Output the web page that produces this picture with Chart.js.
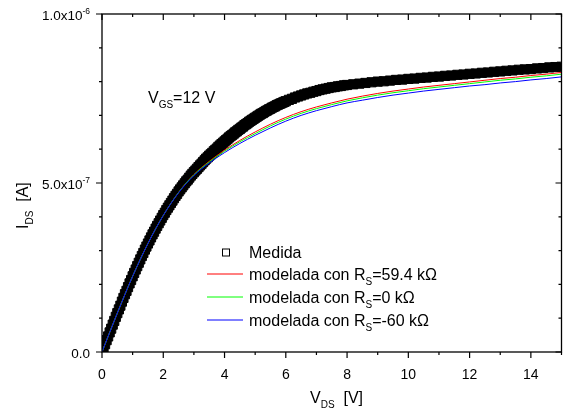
<!DOCTYPE html>
<html>
<head>
<meta charset="utf-8">
<script src="https://cdn.jsdelivr.net/npm/chart.js@4.4.0/dist/chart.umd.min.js"></script>
<style>
  html, body { margin: 0; padding: 0; background: #fff; }
</style>
</head>
<body>
<canvas id="c" width="569" height="411"></canvas>
<script>
// currents are in units of 1e-6 A
const vdsMedida = [0, 0.05, 0.1, 0.15, 0.2, 0.25, 0.3, 0.35, 0.4, 0.45, 0.5, 0.55, 0.6, 0.65, 0.7, 0.75, 0.8, 0.85, 0.9, 0.95,
  1.0, 1.05, 1.1, 1.15, 1.2, 1.25, 1.3, 1.35, 1.4, 1.45, 1.5, 1.55, 1.6, 1.65, 1.7, 1.75, 1.8, 1.85, 1.9, 1.95,
  2.0, 2.05, 2.1, 2.15, 2.2, 2.25, 2.3, 2.35, 2.4, 2.45, 2.5, 2.55, 2.6, 2.65, 2.7, 2.75, 2.8, 2.85, 2.9, 2.95,
  3.0, 3.05, 3.1, 3.15, 3.2, 3.25, 3.3, 3.35, 3.4, 3.45, 3.5, 3.55, 3.6, 3.65, 3.7, 3.75, 3.8, 3.85, 3.9, 3.95,
  4.0, 4.05, 4.1, 4.15, 4.2, 4.25, 4.3, 4.35, 4.4, 4.45, 4.5, 4.55, 4.6, 4.65, 4.7, 4.75, 4.8, 4.85, 4.9, 4.95,
  5.0, 5.05, 5.1, 5.15, 5.2, 5.25, 5.3, 5.35, 5.4, 5.45, 5.5, 5.55, 5.6, 5.65, 5.7, 5.75, 5.8, 5.85, 5.9, 5.95,
  6.0, 6.1, 6.2, 6.3, 6.4, 6.5, 6.6, 6.7, 6.8, 6.9, 7.0, 7.1, 7.2, 7.3, 7.4, 7.5, 7.6, 7.7, 7.8, 7.9,
  8.0, 8.2, 8.4, 8.6, 8.8, 9.0, 9.2, 9.4, 9.6, 9.8, 10.0, 10.2, 10.4, 10.6, 10.8, 11.0, 11.2, 11.4, 11.6, 11.8,
  12.0, 12.2, 12.4, 12.6, 12.8, 13.0, 13.2, 13.4, 13.6, 13.8, 14.0, 14.2, 14.4, 14.6, 14.8, 15.0];
const iMedida = [0, 0.012, 0.023, 0.035, 0.046, 0.058, 0.069, 0.081, 0.092, 0.104, 0.115, 0.126, 0.137, 0.149, 0.160, 0.171, 0.181, 0.192, 0.203, 0.213,
  0.224, 0.234, 0.244, 0.254, 0.264, 0.274, 0.284, 0.293, 0.303, 0.312, 0.321, 0.330, 0.339, 0.348, 0.356, 0.365, 0.373, 0.381, 0.389, 0.397,
  0.405, 0.412, 0.420, 0.427, 0.434, 0.441, 0.448, 0.455, 0.462, 0.468, 0.475, 0.481, 0.487, 0.493, 0.499, 0.505, 0.510, 0.516, 0.522, 0.527,
  0.532, 0.537, 0.542, 0.547, 0.552, 0.557, 0.562, 0.567, 0.572, 0.576, 0.581, 0.585, 0.589, 0.594, 0.598, 0.602, 0.607, 0.611, 0.615, 0.619,
  0.623, 0.627, 0.631, 0.635, 0.639, 0.642, 0.646, 0.650, 0.653, 0.657, 0.660, 0.664, 0.667, 0.671, 0.674, 0.677, 0.681, 0.684, 0.687, 0.690,
  0.693, 0.696, 0.699, 0.702, 0.705, 0.707, 0.710, 0.713, 0.715, 0.718, 0.720, 0.723, 0.725, 0.727, 0.730, 0.732, 0.734, 0.736, 0.738, 0.740,
  0.742, 0.746, 0.749, 0.753, 0.756, 0.759, 0.762, 0.765, 0.767, 0.770, 0.772, 0.775, 0.777, 0.779, 0.781, 0.783, 0.784, 0.786, 0.787, 0.789,
  0.790, 0.792, 0.794, 0.796, 0.798, 0.800, 0.801, 0.803, 0.805, 0.806, 0.808, 0.809, 0.811, 0.812, 0.814, 0.815, 0.817, 0.818, 0.820, 0.821,
  0.823, 0.824, 0.826, 0.827, 0.829, 0.830, 0.832, 0.833, 0.835, 0.836, 0.837, 0.839, 0.840, 0.842, 0.843, 0.844];

const vdsModel = [0, 0.5, 1, 1.5, 2, 2.5, 3, 3.5, 4, 4.5, 5, 5.5, 6, 6.5, 7, 7.5, 8, 8.5, 9, 9.5, 10, 10.5, 11, 11.5, 12, 12.5, 13, 13.5, 14, 14.5, 15];
const iRs594 = [0, 0.115, 0.224, 0.321, 0.404, 0.472, 0.525, 0.564, 0.597, 0.626, 0.651, 0.674, 0.694, 0.711, 0.725, 0.737, 0.748, 0.757, 0.765, 0.772, 0.778, 0.784, 0.789, 0.794, 0.799, 0.804, 0.809, 0.813, 0.818, 0.822, 0.827];
const iRs0 = [0, 0.115, 0.224, 0.321, 0.404, 0.472, 0.524, 0.562, 0.594, 0.622, 0.646, 0.669, 0.689, 0.706, 0.720, 0.732, 0.743, 0.752, 0.760, 0.767, 0.773, 0.779, 0.784, 0.789, 0.794, 0.799, 0.804, 0.808, 0.813, 0.817, 0.822];
const iRsNeg60 = [0, 0.115, 0.224, 0.321, 0.404, 0.471, 0.522, 0.559, 0.590, 0.617, 0.641, 0.663, 0.683, 0.700, 0.714, 0.726, 0.737, 0.745, 0.753, 0.760, 0.766, 0.772, 0.777, 0.782, 0.787, 0.791, 0.796, 0.800, 0.805, 0.809, 0.814];

const rsLabels = ['59.4', '0', '-60'];
const lineColors = ['#ff0000', '#00ff00', '#0000ff'];

const xMajor = [0, 2, 4, 6, 8, 10, 12, 14];
const xMinor = [1, 3, 5, 7, 9, 11, 13, 15];
const yMajor = [0, 0.5, 1.0];
const yMinor = [0.1, 0.2, 0.3, 0.4, 0.6, 0.7, 0.8, 0.9];
const yTickBase = ['0.0', '5.0x10', '1.0x10'];
const yTickExp = ['', '-7', '-6'];

const FONT = '"Liberation Sans", Arial, sans-serif';

function pts(xs, ys) {
  return xs.map((v, i) => ({ x: v, y: ys[i] }));
}

// draws text pieces with sub/superscripts
function rich(ctx, x, y, parts) {
  let cx = x;
  parts.forEach(p => {
    ctx.font = p.s + 'px ' + FONT;
    ctx.fillText(p.t, cx, y + (p.dy || 0));
    cx += ctx.measureText(p.t).width;
  });
  return cx;
}
function richWidth(ctx, parts) {
  let w = 0;
  parts.forEach(p => {
    ctx.font = p.s + 'px ' + FONT;
    w += ctx.measureText(p.t).width;
  });
  return w;
}

const frame = {
  id: 'frame',
  afterDraw(chart) {
    const { ctx, chartArea: a, scales: { x, y } } = chart;
    ctx.save();
    ctx.strokeStyle = '#000';
    ctx.fillStyle = '#000';
    ctx.lineWidth = 1.3;
    ctx.strokeRect(a.left, a.top, a.right - a.left, a.bottom - a.top);

    ctx.lineWidth = 1.2;
    ctx.beginPath();
    xMajor.concat(xMinor).forEach(v => {
      const px = x.getPixelForValue(v);
      const len = xMajor.includes(v) ? 6 : 3;
      ctx.moveTo(px, a.bottom); ctx.lineTo(px, a.bottom + len);
      ctx.moveTo(px, a.top); ctx.lineTo(px, a.top + len);
    });
    yMajor.concat(yMinor).forEach(v => {
      const py = y.getPixelForValue(v);
      const len = yMajor.includes(v) ? 6 : 3;
      ctx.moveTo(a.left, py); ctx.lineTo(a.left - len, py);
      ctx.moveTo(a.right, py); ctx.lineTo(a.right - len, py);
    });
    ctx.stroke();

    // tick labels
    ctx.textBaseline = 'top';
    ctx.textAlign = 'center';
    ctx.font = '14px ' + FONT;
    xMajor.forEach(v => ctx.fillText(String(v), x.getPixelForValue(v), 368));

    ctx.textAlign = 'left';
    ctx.textBaseline = 'alphabetic';
    yMajor.forEach((v, i) => {
      const parts = [{ t: yTickBase[i], s: 13.5 }];
      if (yTickExp[i]) parts.push({ t: yTickExp[i], s: 8.5, dy: -6 });
      const w = richWidth(ctx, parts);
      rich(ctx, 90 - w, y.getPixelForValue(v) + 6, parts);
    });

    // axis titles
    rich(ctx, 310, 403, [{ t: 'V', s: 16 }, { t: 'DS', s: 10, dy: 5 }, { t: '  [V]', s: 16 }]);
    ctx.save();
    ctx.translate(28, 229);
    ctx.rotate(-Math.PI / 2);
    rich(ctx, 0, 0, [{ t: 'I', s: 16 }, { t: 'DS', s: 10, dy: 5 }, { t: '  [A]', s: 16 }]);
    ctx.restore();

    // annotation
    rich(ctx, 148, 103, [{ t: 'V', s: 16 }, { t: 'GS', s: 10, dy: 5 }, { t: '=12 V', s: 16 }]);

    // legend
    const rows = [252.5, 274, 297, 320];
    ctx.lineWidth = 1;
    ctx.strokeRect(222.5, rows[0] - 3.5, 7, 7);
    rich(ctx, 249, rows[0] + 5.5, [{ t: 'Medida', s: 16 }]);
    rsLabels.forEach((r, i) => {
      const ly = rows[i + 1];
      ctx.strokeStyle = lineColors[i];
      ctx.beginPath();
      ctx.moveTo(207, ly); ctx.lineTo(243, ly);
      ctx.stroke();
      rich(ctx, 249, ly + 5.5, [{ t: 'modelada con R', s: 16 }, { t: 'S', s: 10, dy: 5 }, { t: '=' + r + ' k\u03A9', s: 16 }]);
    });
    ctx.restore();
  }
};

const modelSets = [iRs594, iRs0, iRsNeg60].map((ys, i) => ({
  label: 'modelada con RS=' + rsLabels[i] + ' k\u03A9',
  data: pts(vdsModel, ys),
  showLine: true,
  borderColor: lineColors[i],
  borderWidth: 1,
  pointRadius: 0,
  cubicInterpolationMode: 'monotone',
  order: 3 - i
}));

new Chart(document.getElementById('c'), {
  type: 'scatter',
  data: {
    datasets: [
      {
        label: 'Medida',
        data: pts(vdsMedida, iMedida),
        showLine: false,
        pointStyle: 'rect',
        pointRadius: 6.5,
        pointBorderWidth: 1,
        pointBackgroundColor: '#000',
        pointBorderColor: '#000',
        order: 4
      }
    ].concat(modelSets)
  },
  options: {
    responsive: false,
    animation: false,
    layout: { padding: { left: 102, right: 3, top: 14, bottom: 59 } },
    plugins: { legend: { display: false }, tooltip: { enabled: false } },
    scales: {
      x: { type: 'linear', display: false, min: 0, max: 15 },
      y: { type: 'linear', display: false, min: 0, max: 1 }
    }
  },
  plugins: [frame]
});
</script>
</body>
</html>
